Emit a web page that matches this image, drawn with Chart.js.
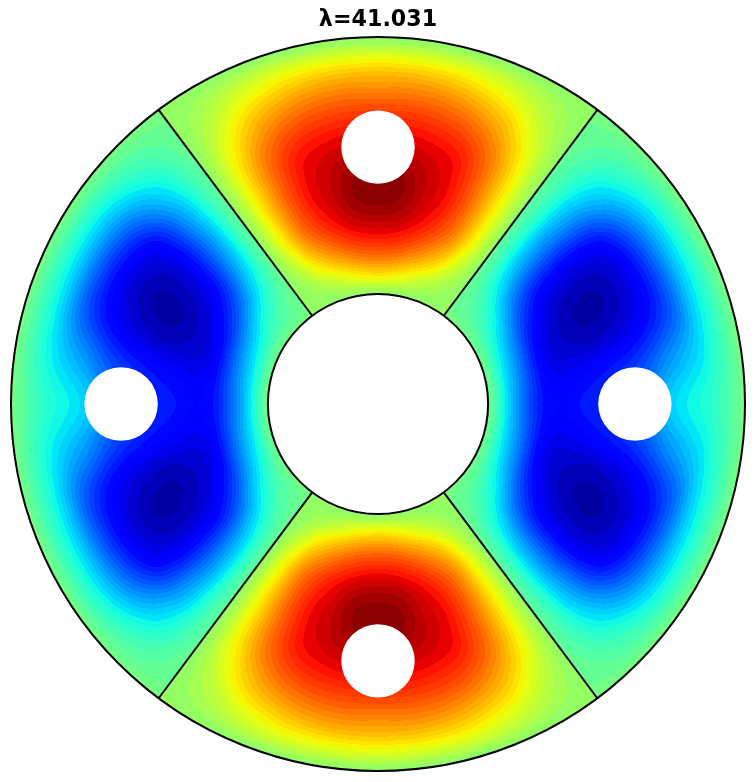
<!DOCTYPE html>
<html>
<head>
<meta charset="utf-8">
<title>lambda field</title>
<script src="https://cdn.jsdelivr.net/npm/chart.js@4/dist/chart.umd.min.js"></script>
<style>
    html, body { margin: 0; padding: 0; background: #fff; }
    #wrap { width: 756px; height: 782px; }
</style>
</head>
<body>
<div id="wrap"><canvas id="modeChart" width="756" height="782"></canvas></div>
<script>
// Data ///////////////////////////////
const chartTitle = "λ=41.031";

// Rings of the table, as a fraction of the outer radius
const ringRadii = [0.30, 0.35, 0.40, 0.45, 0.50, 0.55, 0.60, 0.65, 0.70, 0.75, 0.80, 0.85, 0.90, 0.95, 1.00];

// Top sector: degrees away from the vertical, up to the spoke
const topAngles = [0, 6.1, 12.2, 18.3, 24.5, 30.6, 36.7];
const topValues = [
    [0.05, 0.05, 0.05, 0.05, 0.05, 0.05, 0.05],
    [0.32, 0.30, 0.25, 0.18, 0.12, 0.07, 0.05],
    [0.57, 0.55, 0.48, 0.39, 0.27, 0.13, 0.05],
    [0.76, 0.74, 0.67, 0.56, 0.42, 0.21, 0.05],
    [0.89, 0.87, 0.80, 0.69, 0.53, 0.28, 0.06],
    [0.97, 0.95, 0.86, 0.76, 0.58, 0.31, 0.06],
    [1.00, 0.97, 0.88, 0.79, 0.60, 0.33, 0.06],
    [0.95, 0.93, 0.87, 0.79, 0.60, 0.33, 0.06],
    [0.86, 0.86, 0.83, 0.77, 0.59, 0.33, 0.06],
    [0.77, 0.78, 0.76, 0.70, 0.55, 0.31, 0.06],
    [0.68, 0.68, 0.66, 0.60, 0.47, 0.27, 0.06],
    [0.55, 0.56, 0.54, 0.48, 0.38, 0.21, 0.05],
    [0.42, 0.42, 0.40, 0.35, 0.27, 0.15, 0.05],
    [0.24, 0.24, 0.23, 0.21, 0.16, 0.10, 0.05],
    [0.04, 0.04, 0.04, 0.04, 0.04, 0.04, 0.04]
];

// Right sector: degrees away from the horizontal, up to the spoke
const rightAngles = [0, 8.9, 17.8, 26.7, 35.5, 44.4, 53.3];
const rightValues = [
    [-0.03, -0.03, -0.03, -0.03, -0.03, -0.03, -0.03],
    [-0.30, -0.29, -0.27, -0.22, -0.15, -0.09, -0.04],
    [-0.55, -0.53, -0.50, -0.44, -0.30, -0.16, -0.05],
    [-0.72, -0.73, -0.73, -0.66, -0.50, -0.26, -0.06],
    [-0.76, -0.80, -0.85, -0.80, -0.65, -0.35, -0.06],
    [-0.72, -0.78, -0.88, -0.88, -0.74, -0.41, -0.07],
    [-0.68, -0.75, -0.90, -0.92, -0.78, -0.44, -0.07],
    [-0.62, -0.71, -0.88, -0.93, -0.80, -0.45, -0.07],
    [-0.56, -0.66, -0.84, -0.90, -0.79, -0.43, -0.07],
    [-0.46, -0.58, -0.77, -0.83, -0.74, -0.40, -0.07],
    [-0.34, -0.47, -0.67, -0.71, -0.62, -0.34, -0.07],
    [-0.27, -0.38, -0.53, -0.54, -0.47, -0.27, -0.06],
    [-0.21, -0.28, -0.33, -0.34, -0.31, -0.18, -0.05],
    [-0.12, -0.15, -0.17, -0.17, -0.16, -0.10, -0.04],
    [-0.02, -0.02, -0.02, -0.02, -0.02, -0.02, -0.02]
];

// Geometry of the disc, in the same units as the axes
const outerRadius = [1.0];
const innerRadius = [0.3];
const holeRadius = [0.1];
const holeCentres = [
    { x: 0, y: 0.7 }, { x: 0.7, y: 0 }, { x: 0, y: -0.7 }, { x: -0.7, y: 0 }
];
const spokeAngles = [36.7, 143.3, 216.7, 323.3]; // clockwise from the top

const levelCount = 50;

// Matplotlib jet, one flat colour per contour band
function ramp(t, stops) {
    for (let i = 1; i < stops.length; i++) {
        if (t <= stops[i][0]) {
            const a = stops[i - 1], b = stops[i];
            return a[1] + (b[1] - a[1]) * (t - a[0]) / (b[0] - a[0]);
        }
    }
    return stops[stops.length - 1][1];
}
const jetR = [[0, 0], [0.35, 0], [0.66, 1], [0.89, 1], [1, 0.5]];
const jetG = [[0, 0], [0.125, 0], [0.375, 1], [0.64, 1], [0.91, 0], [1, 0]];
const jetB = [[0, 0.5], [0.11, 1], [0.34, 1], [0.65, 0], [1, 0]];
const bandColors = [];
for (let i = 0; i < levelCount; i++) {
    const t = (i + 0.5) / levelCount;
    bandColors.push([ramp(t, jetR) * 255, ramp(t, jetG) * 255, ramp(t, jetB) * 255]);
}

function cubic(p0, p1, p2, p3, t) {
    return p1 + 0.5 * t * (p2 - p0 + t * (2 * p0 - 5 * p1 + 4 * p2 - p3 + t * (3 * (p1 - p2) + p3 - p0)));
}

// Value at a place inside a table, same job as contourf does between its nodes
function fieldAt(table, angles, r, angle) {
    const u = Math.min((r - ringRadii[0]) / 0.05, ringRadii.length - 1.001);
    const v = Math.min(angle / (angles[angles.length - 1] / (angles.length - 1)), angles.length - 1.001);
    const iu = Math.floor(u), iv = Math.floor(v);
    const cell = (i, j) => {
        i = Math.max(0, Math.min(ringRadii.length - 1, i));
        j = Math.abs(j); // mirror across the axis of the sector
        j = Math.min(angles.length - 1, j);
        return table[i][j];
    };
    const col = [];
    for (let k = -1; k <= 2; k++) {
        col.push(cubic(cell(iu + k, iv - 1), cell(iu + k, iv), cell(iu + k, iv + 1), cell(iu + k, iv + 2), v - iv));
    }
    return cubic(col[0], col[1], col[2], col[3], u - iu);
}

// Paints the bands under the datasets, going through the chart's scales
const fieldPlugin = {
    id: "fieldPlugin",
    beforeDatasetsDraw(chart) {
        const area = chart.chartArea;
        const xs = chart.scales.x, ys = chart.scales.y;
        const left = Math.floor(area.left) - 2, top = Math.floor(area.top) - 2;
        const w = Math.ceil(area.right - area.left) + 4, h = Math.ceil(area.bottom - area.top) + 4;
        const off = document.createElement("canvas");
        off.width = w;
        off.height = h;
        const octx = off.getContext("2d");
        const img = octx.createImageData(w, h);
        for (let py = 0; py < h; py++) {
            const y = ys.getValueForPixel(top + py + 0.5);
            for (let px = 0; px < w; px++) {
                const x = xs.getValueForPixel(left + px + 0.5);
                const r = Math.sqrt(x * x + y * y);
                if (r > outerRadius[0] || r < innerRadius[0]) continue;
                const fromTop = Math.atan2(Math.abs(x), Math.abs(y)) * 180 / Math.PI;
                const value = fromTop <= topAngles[topAngles.length - 1]
                    ? fieldAt(topValues, topAngles, r, fromTop)
                    : fieldAt(rightValues, rightAngles, r, 90 - fromTop);
                let level = Math.floor((value + 1) / 2 * levelCount);
                level = Math.max(0, Math.min(levelCount - 1, level));
                const c = bandColors[level];
                const k = (py * w + px) * 4;
                img.data[k] = c[0];
                img.data[k + 1] = c[1];
                img.data[k + 2] = c[2];
                img.data[k + 3] = 255;
            }
        }
        octx.putImageData(img, 0, 0);
        chart.ctx.drawImage(off, left, top);
    }
};

// Radius in pixels of a circle given in axis units
function pixelRadius(ctx, radius) {
    const xs = ctx.chart.scales.x;
    return Math.abs(xs.getPixelForValue(radius) - xs.getPixelForValue(0));
}

const spokeSets = spokeAngles.map((deg) => {
    const a = deg * Math.PI / 180;
    return {
        label: "spoke " + deg,
        showLine: true,
        data: [innerRadius[0], outerRadius[0]].map((r) => ({ x: r * Math.sin(a), y: r * Math.cos(a) })),
        borderColor: "#000",
        borderWidth: 2,
        pointRadius: 0,
        clip: false,
        order: 3
    };
});

const modeChart = new Chart(document.querySelector("#modeChart"), {
    type: "scatter",
    plugins: [fieldPlugin],
    data: {
        datasets: [
            ...spokeSets,
            {
                label: "holes",
                data: holeCentres,
                backgroundColor: "#fff",
                borderWidth: 0,
                pointRadius: (ctx) => pixelRadius(ctx, holeRadius[0]),
                clip: false,
                order: 2
            },
            {
                label: "inner circle",
                data: [{ x: 0, y: 0 }],
                backgroundColor: "#fff",
                borderColor: "#000",
                borderWidth: 2,
                pointRadius: (ctx) => pixelRadius(ctx, innerRadius[0]),
                clip: false,
                order: 1
            },
            {
                label: "outer circle",
                data: [{ x: 0, y: 0 }],
                backgroundColor: "rgba(0,0,0,0)",
                borderColor: "#000",
                borderWidth: 2,
                pointRadius: (ctx) => pixelRadius(ctx, outerRadius[0]),
                clip: false,
                order: 0
            }
        ]
    },
    options: {
        responsive: false,
        animation: false,
        layout: { padding: { left: 11, right: 11, bottom: 11 } },
        plugins: {
            legend: { display: false },
            tooltip: { enabled: false },
            title: {
                display: true,
                text: chartTitle,
                color: "#000",
                font: { family: "'DejaVu Sans'", size: 22.2, weight: "bold" },
                padding: { top: 7, bottom: 3.4 }
            }
        },
        scales: {
            x: { type: "linear", min: -1, max: 1, display: false },
            y: { type: "linear", min: -1, max: 1, display: false }
        }
    }
});
</script>
</body>
</html>
